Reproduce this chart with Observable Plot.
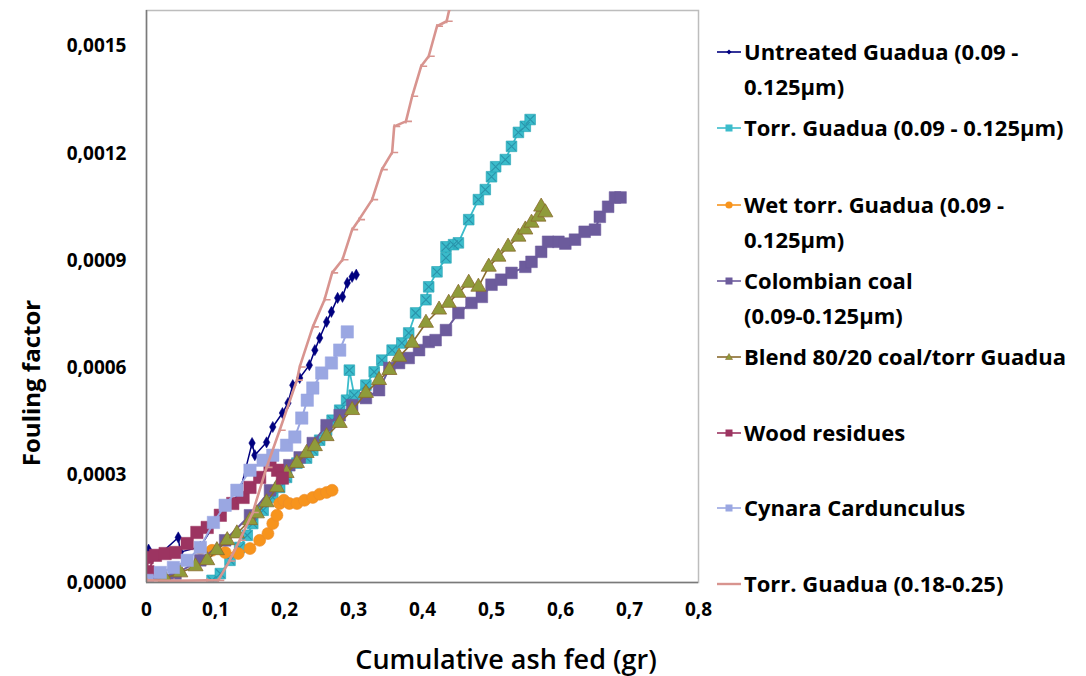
<!DOCTYPE html>
<html>
<head>
<meta charset="utf-8">
<script src="https://cdn.jsdelivr.net/npm/d3@7"></script>
<script src="https://cdn.jsdelivr.net/npm/@observablehq/plot@0.6"></script>
<style>
  html, body { margin: 0; padding: 0; background: #fff; }
  #wrap { position: relative; width: 1086px; height: 676px; font-family: "Open Sans", "Noto Sans", sans-serif; color: #000; }
  #chart { position: absolute; left: 0; top: 0; }
  .ytitle { position: absolute; left: 30px; top: 383px; transform: translate(-50%, -50%) rotate(-90deg); font-size: 24px; font-weight: 700; white-space: nowrap; }
  .xtitle { position: absolute; left: 506px; top: 658px; transform: translate(-50%, -50%); font-size: 27px; font-weight: 600; white-space: nowrap; }
  .leg { position: absolute; left: 716px; font-size: 22px; font-weight: 700; line-height: 35px; white-space: nowrap; }
  .leg .row { display: flex; align-items: center; }
  .leg svg { flex: none; margin-right: 2px; }
</style>
</head>
<body>
<div id="wrap">
  <div id="chart"></div>
  <div class="ytitle">Fouling factor</div>
  <div class="xtitle">Cumulative ash fed (gr)</div>
  <div id="legend"></div>
</div>
<script>
// ---- Data (x: cumulative ash fed in gr, y: fouling factor in units of 1e-4) ----
const seriesNames = [
  "Untreated Guadua (0.09 - 0.125µm)",
  "Torr. Guadua (0.09 - 0.125µm)",
  "Wet torr. Guadua (0.09 - 0.125µm)",
  "Colombian coal (0.09-0.125µm)",
  "Blend 80/20 coal/torr Guadua",
  "Wood residues",
  "Cynara Cardunculus",
  "Torr. Guadua (0.18-0.25)"
];

const untreatedX = [0.003,0.020,0.046,0.049,0.078,0.107,0.135,0.153,0.157,0.174,0.183,0.197,0.205,0.212,0.222,0.236,0.244,0.251,0.261,0.268,0.277,0.284,0.291,0.298,0.304];
const untreatedY = [0.92,0.80,1.26,0.85,1.00,1.90,2.50,3.90,3.56,3.92,4.35,4.74,5.02,5.52,5.72,6.08,6.50,6.84,7.29,7.57,7.96,7.99,8.38,8.55,8.61];

const torrX = [0.095,0.107,0.121,0.135,0.146,0.154,0.169,0.183,0.193,0.203,0.218,0.232,0.241,0.251,0.261,0.269,0.280,0.290,0.294,0.301,0.318,0.330,0.341,0.356,0.370,0.380,0.390,0.405,0.409,0.421,0.434,0.434,0.445,0.452,0.467,0.481,0.491,0.500,0.506,0.520,0.529,0.539,0.549,0.556];
const torrY = [0.06,0.25,0.62,0.98,1.32,1.65,2.02,2.38,2.66,2.94,3.34,3.48,3.70,3.98,4.26,4.54,4.82,5.10,5.94,5.24,5.52,5.89,6.22,6.50,6.70,6.98,7.54,7.91,8.27,8.69,9.08,9.39,9.45,9.50,10.15,10.71,10.99,11.35,11.63,11.83,12.20,12.59,12.76,12.95];

const wetX = [0.078,0.095,0.114,0.133,0.150,0.164,0.176,0.183,0.189,0.193,0.199,0.207,0.218,0.229,0.241,0.251,0.261,0.269];
const wetY = [0.95,0.90,0.84,0.81,0.95,1.18,1.37,1.65,1.88,2.21,2.30,2.21,2.21,2.30,2.38,2.47,2.52,2.58];

const coalX = [0.001,0.042,0.078,0.114,0.150,0.179,0.207,0.222,0.241,0.261,0.280,0.298,0.318,0.337,0.352,0.366,0.380,0.395,0.409,0.419,0.434,0.452,0.471,0.486,0.500,0.514,0.529,0.549,0.558,0.572,0.582,0.597,0.607,0.621,0.635,0.650,0.657,0.669,0.679,0.687];
const coalY = [0.06,0.25,0.62,1.18,1.88,2.58,3.28,3.50,3.90,4.40,4.68,4.96,5.16,5.38,6.00,6.14,6.28,6.50,6.73,6.78,7.06,7.54,7.82,7.99,8.33,8.47,8.66,8.83,8.97,9.25,9.53,9.53,9.48,9.59,9.81,9.87,10.23,10.51,10.77,10.77];

const blendX = [0.001,0.027,0.049,0.071,0.088,0.102,0.117,0.131,0.150,0.160,0.174,0.189,0.203,0.218,0.232,0.244,0.261,0.280,0.298,0.318,0.337,0.352,0.366,0.385,0.405,0.424,0.438,0.452,0.467,0.481,0.496,0.510,0.524,0.539,0.549,0.558,0.568,0.572,0.578];
const blendY = [0.06,0.11,0.28,0.45,0.62,0.90,1.18,1.37,1.74,1.93,2.24,2.66,3.06,3.34,3.62,3.81,4.09,4.46,4.82,5.30,5.66,5.94,6.31,6.70,7.26,7.63,7.82,8.10,8.38,8.27,8.83,9.11,9.39,9.67,9.87,10.06,10.23,10.51,10.35];

const woodX = [0.001,0.002,0.013,0.027,0.042,0.059,0.073,0.088,0.107,0.125,0.140,0.150,0.164,0.179,0.190,0.197];
const woodY = [0.70,0.30,0.76,0.81,0.84,1.09,1.40,1.54,1.88,2.21,2.38,2.66,2.94,3.28,3.14,2.92];

const cynaraX = [0.001,0.020,0.039,0.059,0.078,0.097,0.114,0.131,0.150,0.169,0.183,0.203,0.215,0.225,0.233,0.241,0.254,0.268,0.280,0.291];
const cynaraY = [0.06,0.28,0.42,0.62,0.98,1.68,2.16,2.58,3.14,3.42,3.56,3.84,4.07,4.60,5.10,5.44,5.86,6.14,6.50,7.01];

const torr2X = [0.001,0.040,0.088,0.104,0.120,0.135,0.154,0.174,0.193,0.218,0.222,0.241,0.258,0.269,0.284,0.298,0.308,0.327,0.341,0.356,0.359,0.376,0.385,0.398,0.409,0.421,0.435,0.439,0.450];
const torr2Y = [0.06,0.05,0.06,0.06,0.60,1.18,1.96,3.22,4.26,5.66,6.03,7.15,7.91,8.66,9.03,9.87,10.15,10.71,11.55,12.03,12.76,12.90,13.60,14.44,14.72,15.56,15.70,16.04,16.60];

const xTicks = [0, 0.1, 0.2, 0.3, 0.4, 0.5, 0.6, 0.7, 0.8];
const yTicks = [0, 0.0003, 0.0006, 0.0009, 0.0012, 0.0015];

// ---- helpers ----
const toRows = (xs, ys) => xs.map((x, i) => ({x, y: ys[i] * 1e-4}));
const untreated = toRows(untreatedX, untreatedY);
const torr = toRows(torrX, torrY);
const wet = toRows(wetX, wetY);
const coal = toRows(coalX, coalY);
const blend = toRows(blendX, blendY);
const wood = toRows(woodX, woodY);
const cynara = toRows(cynaraX, cynaraY);
const torr2 = toRows(torr2X, torr2Y);

const dash = { draw(ctx, size) { const w = Math.sqrt(size); ctx.moveTo(0, 0); ctx.lineTo(w, 0); ctx.moveTo(0,-w*0.35); ctx.lineTo(0, w*0.35); } };

const C = {
  navy: "#00007f", teal: "#3bbccb", tealD: "#1f9fb0", orange: "#f7941d", orangeD: "#ec8c2a",
  purple: "#6c5b9c", olive: "#8f9b3a", oliveD: "#8a6b2e", maroon: "#9c3461", blue: "#9aa7e2", pink: "#d8948f"
};

const comma = f => v => f(v).replace(".", ",");

const chart = Plot.plot({
  width: 730, height: 676,
  marginLeft: 146, marginRight: 32, marginTop: 10, marginBottom: 94,
  x: { domain: [0, 0.8], ticks: xTicks, tickFormat: v => v === 0 ? "0" : comma(d3.format(".1f"))(v), label: null, tickSize: 0, tickPadding: 20 },
  y: { domain: [0, 0.0016], ticks: yTicks, tickFormat: comma(d3.format(".4f")), label: null, tickSize: 0, tickPadding: 20 },
  style: { fontFamily: "'Open Sans', 'Noto Sans', sans-serif", fontSize: "19px", fontWeight: "700", color: "#000", background: "transparent" },
  marks: [
    Plot.frame({ stroke: "#bdbdbd", strokeWidth: 1.5 }),
    // Untreated Guadua
    Plot.line(untreated, { x: "x", y: "y", stroke: C.navy, strokeWidth: 1.5, clip: true }),
    Plot.dot(untreated, { x: "x", y: "y", symbol: "diamond", r: 3.4, fill: C.navy, stroke: C.navy, strokeWidth: 0.5, clip: true }),
    // Torr. Guadua
    Plot.line(torr, { x: "x", y: "y", stroke: C.teal, strokeWidth: 1.8, clip: true }),
    Plot.dot(torr, { x: "x", y: "y", symbol: "square", r: 6, fill: C.teal, stroke: C.tealD, strokeWidth: 0.6, clip: true }),
    Plot.dot(torr, { x: "x", y: "y", symbol: "times", r: 4, stroke: "#2a93aa", strokeWidth: 1.1, clip: true }),
    // Wet torr
    Plot.line(wet, { x: "x", y: "y", stroke: C.orange, strokeWidth: 1.8, clip: true }),
    Plot.dot(wet, { x: "x", y: "y", symbol: "circle", r: 6, fill: C.orange, stroke: C.orangeD, strokeWidth: 0.6, clip: true }),
    // Colombian coal
    Plot.line(coal, { x: "x", y: "y", stroke: C.purple, strokeWidth: 2, clip: true }),
    Plot.dot(coal, { x: "x", y: "y", symbol: "square", r: 6.6, fill: C.purple, stroke: C.purple, strokeWidth: 0.5, clip: true }),
    // Blend
    Plot.line(blend, { x: "x", y: "y", stroke: C.oliveD, strokeWidth: 1.6, clip: true }),
    Plot.dot(blend, { x: "x", y: "y", symbol: "triangle", r: 5.6, fill: C.olive, stroke: C.oliveD, strokeWidth: 0.8, clip: true }),
    // Wood residues
    Plot.line(wood, { x: "x", y: "y", stroke: C.maroon, strokeWidth: 2, clip: true }),
    Plot.dot(wood, { x: "x", y: "y", symbol: "square", r: 7, fill: C.maroon, stroke: C.maroon, strokeWidth: 0.5, clip: true }),
    // Cynara
    Plot.line(cynara, { x: "x", y: "y", stroke: C.blue, strokeWidth: 2, clip: true }),
    Plot.dot(cynara, { x: "x", y: "y", symbol: "square", r: 7, fill: C.blue, stroke: C.blue, strokeWidth: 0.5, clip: true }),
    // Torr. Guadua (0.18-0.25)
    Plot.line(torr2, { x: "x", y: "y", stroke: C.pink, strokeWidth: 2.6, clip: true }),
    Plot.dot(torr2, { x: "x", y: "y", symbol: dash, r: 3.4, fill: "none", stroke: C.pink, strokeWidth: 1.6, clip: true }),
    // axes lines
    Plot.ruleX([0], { stroke: "#7a7a7a", strokeWidth: 1.5 }),
    Plot.ruleY([0], { stroke: "#7a7a7a", strokeWidth: 1.5 })
  ]
});
document.getElementById("chart").appendChild(chart);

// ---- Legend (HTML) ----
const legendItems = [
  { lines: ["Untreated Guadua (0.09 -", "0.125µm)"], color: C.navy, marker: "diamond", top: 34 },
  { lines: ["Torr. Guadua (0.09 - 0.125µm)"], color: C.teal, marker: "square", top: 110 },
  { lines: ["Wet torr. Guadua (0.09 -", "0.125µm)"], color: C.orange, marker: "circle", top: 187 },
  { lines: ["Colombian coal", "(0.09-0.125µm)"], color: C.purple, marker: "square", top: 263 },
  { lines: ["Blend 80/20 coal/torr Guadua"], color: C.oliveD, fillc: C.olive, marker: "triangle", top: 339 },
  { lines: ["Wood residues"], color: C.maroon, marker: "square", top: 415 },
  { lines: ["Cynara Cardunculus"], color: C.blue, marker: "square", top: 490 },
  { lines: ["Torr. Guadua (0.18-0.25)"], color: C.pink, marker: "none", top: 566 }
];
function markerSvg(it) {
  let m = "";
  const f = it.fillc || it.color;
  if (it.marker === "diamond") m = `<path d="M13,7.5 L15.5,10 L13,12.5 L10.5,10Z" fill="${f}"/>`;
  else if (it.marker === "square") m = `<rect x="9.5" y="6.5" width="7" height="7" fill="${f}"/>`;
  else if (it.marker === "circle") m = `<circle cx="13" cy="10" r="3.6" fill="${f}"/>`;
  else if (it.marker === "triangle") m = `<path d="M13,6.5 L16.5,12.5 L9.5,12.5Z" fill="${f}" stroke="${it.color}" stroke-width="0.6"/>`;
  return `<svg width="26" height="20"><line x1="1" y1="10" x2="25" y2="10" stroke="${it.color}" stroke-width="${it.marker==='none'?2.4:1.6}"/>${m}</svg>`;
}
const leg = document.getElementById("legend");
legendItems.forEach((it, i) => {
  const d = document.createElement("div");
  d.className = "leg";
  d.style.top = it.top + "px";
  d.innerHTML = `<div class="row">${markerSvg(it)}<span>${it.lines[0]}</span></div>` +
    (it.lines[1] ? `<div style="padding-left:28px">${it.lines[1]}</div>` : "");
  leg.appendChild(d);
});
</script>
</body>
</html>
